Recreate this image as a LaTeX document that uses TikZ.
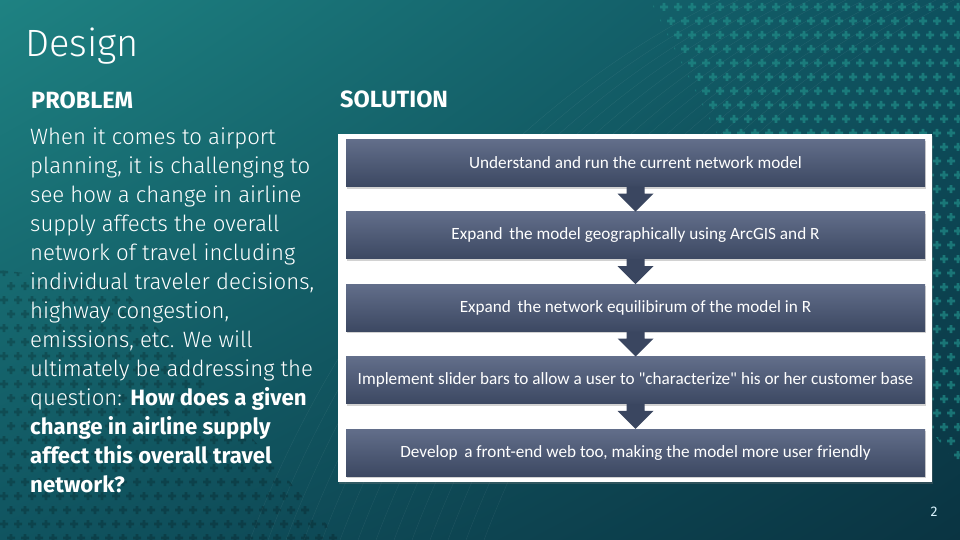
\documentclass[tikz,border=0pt]{standalone}
\usepackage{fontspec}
\setmainfont{Fira Sans}
\newfontfamily\lightfont{Fira Sans}[UprightFont={* Light}, BoldFont={* Bold}]
\newfontfamily\boxfont{Carlito}
\usetikzlibrary{positioning, shadows, shadings}

\definecolor{bgtl}{RGB}{30,130,130}
\definecolor{bgtr}{RGB}{14,80,94}
\definecolor{bgbl}{RGB}{16,84,96}
\definecolor{bgbr}{RGB}{10,52,66}
\definecolor{plusteal}{RGB}{32,140,136}
\definecolor{boxtop}{RGB}{98,110,138}
\definecolor{boxbot}{RGB}{60,72,98}
\definecolor{arrowcol}{RGB}{58,70,96}

\begin{document}
\begin{tikzpicture}[
    x=1pt, y=-1pt,
    stepbox/.style={rectangle, minimum width=579pt, minimum height=47pt, inner sep=0pt,
        top color=boxtop, bottom color=boxbot, text=white,
        font=\boxfont\fontsize{17.2}{20}\selectfont,
        drop shadow={opacity=0.35, shadow xshift=1pt, shadow yshift=-2pt}},
    heading/.style={font=\bfseries\fontsize{23.5}{26}\selectfont, text=white, inner sep=0pt, anchor=base west},
    plus/.style={fill=plusteal, opacity=0.7}
]
    % background
    \shade[upper left=bgtl, upper right=bgtr, lower left=bgbl, lower right=bgbr] (0,0) rectangle (960,540);
    \useasboundingbox (0,0) rectangle (960,540);
    \foreach \s in {0,18,...,250}
        \draw[white, opacity=0.07] (250+\s,540) .. controls (330+\s,330) and (480+\s,120) .. (720+\s,0);

    % plus patterns
    \begin{scope}
        \clip (650,0) -- (960,0) -- (960,470) -- (720,140) -- cycle;
        \foreach \j in {0,...,34}
            \foreach \i in {0,...,23}
                \fill[plus] ({650+14*\i+7*mod(\j,2)},{7+14*\j}) +(-4,-1.3) rectangle +(4,1.3) +(-1.3,-4) rectangle +(1.3,4);
    \end{scope}
    \begin{scope}
        \clip (0,270) -- (120,285) -- (340,540) -- (0,540) -- cycle;
        \foreach \j in {0,...,19}
            \foreach \i in {0,...,24}
                \fill[black, opacity=0.2] ({4+14*\i+7*mod(\j,2)},{272+14*\j}) +(-4,-1.3) rectangle +(4,1.3) +(-1.3,-4) rectangle +(1.3,4);
    \end{scope}

    % left column
    \node[font=\lightfont\fontsize{38}{40}\selectfont, text=white, anchor=base west, inner sep=0pt] (title) at (25,57) {Design};
    \node[heading] (problem) at (31,109) {PROBLEM};
    \node[anchor=north west, inner sep=0pt, align=left, text=white,
          font=\lightfont\fontsize{22.2}{29}\selectfont] (body) at (30,128) {%
        When it comes to airport\\
        planning, it is challenging to\\
        see how a change in airline\\
        supply affects the overall\\
        network of travel including\\
        individual traveler decisions,\\
        highway congestion,\\
        emissions, etc. We will\\
        ultimately be addressing the\\
        question: \textbf{How does a given}\\
        \textbf{change in airline supply}\\
        \textbf{affect this overall travel}\\
        \textbf{network?}};

    % right column
    \node[heading] (solution) at (340,108) {SOLUTION};
    \node[fill=white, minimum width=594pt, minimum height=348pt, inner sep=0pt, anchor=north west,
          drop shadow={opacity=0.3, shadow xshift=1pt, shadow yshift=-2pt}] (panel) at (338,134) {};

    \node[stepbox] (s1) at (635.5,163) {Understand and run the current network model};
    \node[stepbox, below=25pt of s1] (s2) {Expand\, the model geographically using ArcGIS and R};
    \node[stepbox, below=25pt of s2] (s3) {Expand\, the network equilibirum of the model in R};
    \node[stepbox, below=25pt of s3] (s4) {Implement slider bars to allow a user to "characterize" his or her customer base};
    \node[stepbox, below=25pt of s4] (s5) {Develop\, a front-end web too, making the model more user friendly};

    \foreach \a/\b in {s1/s2, s2/s3, s3/s4, s4/s5}
        \fill[arrowcol] ([xshift=-9pt]\a.south) -- ([xshift=9pt]\a.south) -- ([xshift=9pt,yshift=-7pt]\a.south)
            -- ([xshift=18pt,yshift=-7pt]\a.south) -- (\b.north) -- ([xshift=-18pt,yshift=-7pt]\a.south)
            -- ([xshift=-9pt,yshift=-7pt]\a.south) -- cycle;

    % page number
    \node[text=white!85!cyan, font=\fontsize{14}{16}\selectfont, inner sep=0pt] (page) at (934,512) {2};
\end{tikzpicture}
\end{document}
